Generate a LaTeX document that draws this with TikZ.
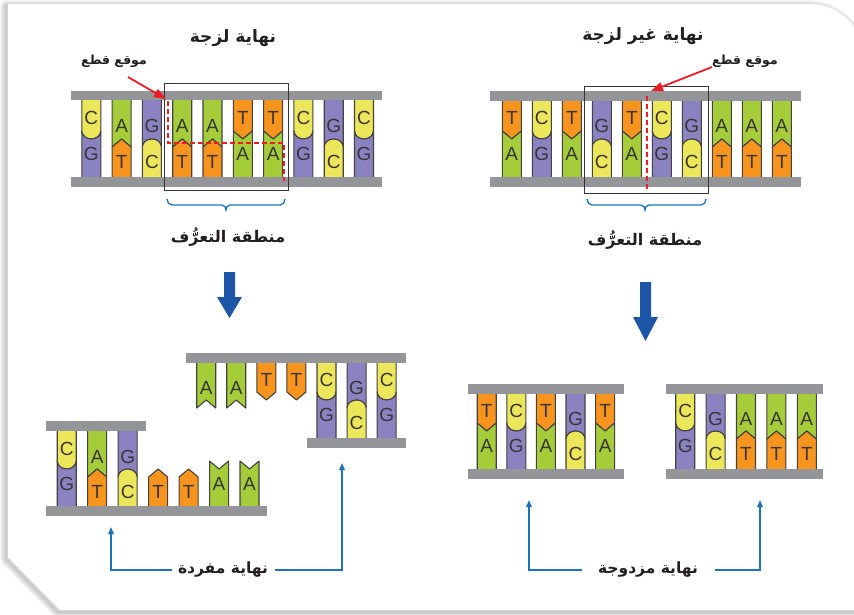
\documentclass[tikz,border=0pt]{standalone}
\usepackage{fontspec}
\setmainfont{Liberation Sans}
\newfontfamily\arabicfont[Script=Arabic]{DejaVu Sans}
\TeXXeTstate=1
\usetikzlibrary{arrows.meta}

\definecolor{baseA}{HTML}{A5CD39}
\definecolor{baseT}{HTML}{F7941D}
\definecolor{baseC}{HTML}{ECE75A}
\definecolor{baseG}{HTML}{8B83C1}
\definecolor{barcolor}{HTML}{939598}
\definecolor{cutred}{HTML}{ED1C24}
\definecolor{markblue}{HTML}{1C75BC}
\definecolor{arrowblue}{HTML}{1D56A6}
\definecolor{inkgray}{HTML}{231F20}

% how far each base pokes into (+) or receives (-) its partner
\def\proA{-8}\def\proG{-8}\def\proT{8}\def\proC{8}
% 0 = pointed/notched end, 1 = rounded end
\def\kindA{0}\def\kindT{0}\def\kindC{1}\def\kindG{1}
\def\halfw{9.5}

% #1 base, #2 x, #3 y at the backbone, #4 y of the junction tip, #5 -1 upper strand / 1 lower strand
\newcommand\piece[5]{%
  \pgfmathsetmacro\ys{#4+(#5)*(\csname pro#1\endcsname)}%
  \pgfmathsetmacro\yc{#4+0.4477*(\ys-(#4))}%
  \pgfmathsetmacro\xl{#2-\halfw}\pgfmathsetmacro\xr{#2+\halfw}%
  \pgfmathsetmacro\xcl{#2-0.5523*\halfw}\pgfmathsetmacro\xcr{#2+0.5523*\halfw}%
  \ifnum\csname kind#1\endcsname=0
    \filldraw[basepiece, fill=base#1] (\xl,#3) -- (\xl,\ys) -- (#2,#4) -- (\xr,\ys) -- (\xr,#3);
  \else
    \filldraw[basepiece, fill=base#1] (\xl,#3) -- (\xl,\ys) .. controls (\xl,\yc) and (\xcl,#4) .. (#2,#4) .. controls (\xcr,#4) and (\xr,\yc) .. (\xr,\ys) -- (\xr,#3);
  \fi
  \pgfmathsetmacro\yt{(#3+\ys)/2+(#5<0)*2.5}%
  \node[baselabel] at (#2,\yt) {#1};%
}
% a full base pair: #1 x, #2 top backbone y, #3 junction y, #4 bottom backbone y, #5 upper base, #6 lower base
\newcommand\bpair[6]{\piece{#5}{#1}{#2}{#3}{-1}\piece{#6}{#1}{#4}{#3}{1}}

\begin{document}
\begin{tikzpicture}[x=1pt,y=-1pt,
  basepiece/.style={draw=inkgray!85, line width=1.1pt, line join=round},
  baselabel/.style={font=\fontsize{19}{19}\selectfont, text=inkgray!90, inner sep=0pt},
  bar/.style={fill=barcolor},
  titletext/.style={font=\arabicfont\fontsize{17}{19}\selectfont\bfseries, text=inkgray, inner sep=1pt},
  sitetext/.style={font=\arabicfont\fontsize{16}{18}\selectfont\bfseries, text=inkgray, inner sep=1pt},
  cuttext/.style={font=\arabicfont\fontsize{12.5}{15}\selectfont\bfseries, text=inkgray, inner sep=1pt},
  endlabel/.style={font=\arabicfont\fontsize{15.5}{17}\selectfont\bfseries, text=inkgray, inner sep=1pt},
  cutline/.style={draw=cutred, line width=1.8pt, dash pattern=on 5pt off 3pt},
  cutarrow/.style={draw=cutred, line width=1.8pt, -{Triangle[length=12pt,width=9pt]}},
  regionbox/.style={draw=inkgray!90, line width=0.9pt},
  bracket/.style={draw=markblue, line width=1.3pt},
  connector/.style={draw=markblue, line width=1.5pt, -{Triangle[length=7pt,width=5.5pt]}},
  blockarrow/.style={fill=arrowblue}]
\useasboundingbox (0,0) rectangle (854,614);

% page with its soft shadow
\fill[white] (0,0) rectangle (854,614);
\foreach \k in {12,10,...,2}
  \draw[black, opacity=0.035, line width=\k pt, line join=round, shift={(-2,2)}] (8,4) -- (810,4) .. controls (839.8,4) and (864,28.2) .. (864,58) -- (864,610) -- (60,610) -- (8,557) -- cycle;
\fill[white] (8,4) -- (810,4) .. controls (839.8,4) and (864,28.2) .. (864,58) -- (864,610) -- (60,610) -- (8,557) -- cycle;

% ---------- sticky-end cutter: uncut DNA ----------
\foreach \t/\b [count=\i from 0] in {C/G,A/T,G/C,A/T,A/T,T/A,T/A,C/G,G/C,C/G} {
  \pgfmathsetmacro\cx{91.3+30.3*\i}
  \bpair{\cx}{100}{139}{177}{\t}{\b}
}
\fill[bar] (71,91) rectangle (382,100);
\fill[bar] (71,177) rectangle (382,187);
\draw[regionbox] (164,83) rectangle (288,190);
\draw[cutline] (168,101) -- (168,143) -- (284,143) -- (284,181);

\node[titletext] (titleSticky) at (233,38) {\beginR نهاية لزجة\endR};
\node[cuttext] (cutLabelL) at (114,61) {\beginR موقع قطع\endR};
\coordinate (cutStartL) at (128,77);
\coordinate (cutTipL) at (166,99);
\draw[cutarrow] (cutStartL) -- (cutTipL);

\draw[bracket] (167,199) to[out=-90,in=180] (172,205) -- (222,205) to[out=0,in=90] (226,210) to[out=90,in=180] (230,205) -- (280,205) to[out=0,in=-90] (285,199);
\node[sitetext] (siteL) at (228,237) {\beginR منطقة التعرُّف\endR};

% ---------- blunt-end cutter: uncut DNA ----------
\foreach \t/\b [count=\i from 0] in {T/A,C/G,T/A,G/C,T/A,C/G,G/C,A/T,A/T,A/T} {
  \pgfmathsetmacro\cx{511.8+30*\i}
  \bpair{\cx}{100}{139}{177}{\t}{\b}
}
\fill[bar] (490,91) rectangle (801,101);
\fill[bar] (490,177) rectangle (801,187);
\draw[regionbox] (584,86) rectangle (708,193);
\draw[cutline] (647,96) -- (647,190);

\node[titletext] (titleBlunt) at (643,36) {\beginR نهاية غير لزجة\endR};
\node[cuttext] (cutLabelR) at (745,61) {\beginR موقع قطع\endR};
\coordinate (cutStartR) at (712,67);
\coordinate (cutTipR) at (651,91);
\draw[cutarrow] (cutStartR) -- (cutTipR);

\draw[bracket] (587,199) to[out=-90,in=180] (592,205) -- (641,205) to[out=0,in=90] (645,210) to[out=90,in=180] (649,205) -- (701,205) to[out=0,in=-90] (706,199);
\node[sitetext] (siteR) at (645,240) {\beginR منطقة التعرُّف\endR};

% ---------- cutting arrows ----------
\fill[blockarrow] (224,272) -- (235,272) -- (235,297) -- (242,297) -- (229.5,318) -- (217,297) -- (224,297) -- cycle;
\fill[blockarrow] (640,282) -- (651,282) -- (651,317) -- (658,317) -- (645.5,341) -- (633,317) -- (640,317) -- cycle;

% ---------- sticky-end fragments ----------
% upper fragment: single strand A A T T, then paired C G C
\foreach \t [count=\i from 0] in {A,A,T,T} {
  \pgfmathsetmacro\cx{206.2+30.08*\i}
  \piece{\t}{\cx}{363}{400}{-1}
}
\foreach \t/\b [count=\i from 4] in {C/G,G/C,C/G} {
  \pgfmathsetmacro\cx{206.2+30.08*\i}
  \bpair{\cx}{363}{400}{438}{\t}{\b}
}
\fill[bar] (186,353) rectangle (406,363);
\fill[bar] (307,438) rectangle (406,448);

% lower fragment: paired C A G, then single strand T T A A
\foreach \t/\b [count=\i from 0] in {C/G,A/T,G/C} {
  \pgfmathsetmacro\cx{66.7+30.47*\i}
  \bpair{\cx}{431}{469}{506}{\t}{\b}
}
\foreach \b [count=\i from 3] in {T,T,A,A} {
  \pgfmathsetmacro\cx{66.7+30.47*\i}
  \piece{\b}{\cx}{506}{469}{1}
}
\fill[bar] (46,421) rectangle (146,431);
\fill[bar] (46,506) rectangle (267,516);

% ---------- blunt-end fragments ----------
\foreach \t/\b [count=\i from 0] in {T/A,C/G,T/A,G/C,T/A} {
  \pgfmathsetmacro\cx{486.7+29.6*\i}
  \bpair{\cx}{394}{431}{469}{\t}{\b}
}
\fill[bar] (468,384) rectangle (624,394);
\fill[bar] (468,469) rectangle (624,479);

\foreach \t/\b [count=\i from 0] in {C/G,G/C,A/T,A/T,A/T} {
  \pgfmathsetmacro\cx{685.2+30.4*\i}
  \bpair{\cx}{394}{431}{469}{\t}{\b}
}
\fill[bar] (666,384) rectangle (823,394);
\fill[bar] (666,469) rectangle (823,479);

% ---------- end-type labels ----------
\node[endlabel] (singleEnds) at (223,569) {\beginR نهاية مفردة\endR};
\coordinate (singleTipL) at (111,527);
\coordinate (singleTipR) at (342,463);
\coordinate (singleFromL) at (172,570);
\coordinate (singleFromR) at (275,570);
\draw[connector] (singleFromL) -| (singleTipL);
\draw[connector] (singleFromR) -| (singleTipR);

\node[endlabel] (doubleEnds) at (648,569) {\beginR نهاية مزدوجة\endR};
\coordinate (doubleTipL) at (529,500);
\coordinate (doubleTipR) at (760,500);
\coordinate (doubleFromL) at (582,570);
\coordinate (doubleFromR) at (715,570);
\draw[connector] (doubleFromL) -| (doubleTipL);
\draw[connector] (doubleFromR) -| (doubleTipR);
\end{tikzpicture}
\end{document}
